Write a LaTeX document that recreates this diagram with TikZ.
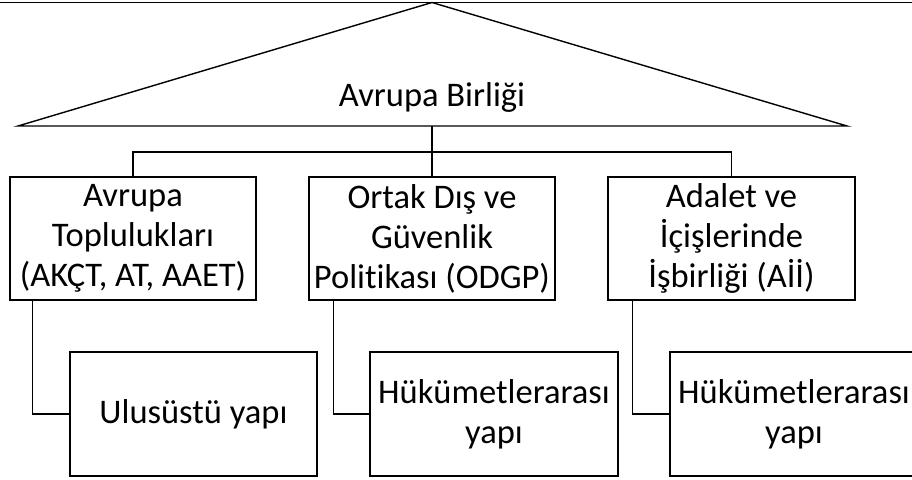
\documentclass[tikz,border=0pt]{standalone}
\usepackage{fontspec}
\setmainfont{Carlito}[Ligatures=NoCommon]
\begin{document}
\begin{tikzpicture}[x=1pt,y=-1pt,
  box/.style={draw,line width=1.4pt,minimum height=123pt,align=center,inner sep=0pt,
    font=\fontsize{34.5}{40}\selectfont},
  conn/.style={line width=1.4pt},
  thin/.style={line width=1.1pt}]
\useasboundingbox (0,0) rectangle (912,479);
\clip (0,0) rectangle (912,479);
% top rule
\draw[line width=1.4pt] (0,2.5) -- (912,2.5);
% triangle
\coordinate (apex) at (432,2.5);
\coordinate (tl) at (18,126);
\coordinate (tr) at (847,126);
\coordinate (tribase) at (432,126);
\draw[line width=1.4pt,line join=miter] (tl) -- (apex) -- (tr) -- cycle;
\node[font=\fontsize{34.5}{40}\selectfont] (eu) at (432,97) {Avrupa Birliği};
% upper boxes
\node[box,minimum width=246pt] (b1) at (133,238.5) {Avrupa\\Toplulukları\\(AKÇT, AT, AAET)};
\node[box,minimum width=246pt] (b2) at (432,238.5) {Ortak Dış ve\\Güvenlik\\Politikası (ODGP)};
\node[box,minimum width=247pt] (b3) at (731.5,238.5) {Adalet ve\\İçişlerinde\\İşbirliği (Aİİ)};
% lower boxes
\node[box,thin,minimum width=247pt,minimum height=124pt] (b4) at (193.5,414) {Ulusüstü yapı};
\node[box,thin,minimum width=248pt,minimum height=124pt] (b5) at (494,414) {Hükümetlerarası\\yapı};
\node[box,thin,minimum width=248pt,minimum height=124pt] (b6) at (794,414) {Hükümetlerarası\\yapı};
% connectors
\coordinate (bar) at (432,152);
\draw[conn] (tribase) -- (b2.north);
\draw[conn] (b1.north) |- (bar) -| (b3.north);
\draw[thin] ([xshift=23pt]b1.south west) |- (b4.west);
\draw[thin] ([xshift=25pt]b2.south west) |- (b5.west);
\draw[thin] ([xshift=25pt]b3.south west) |- (b6.west);
\end{tikzpicture}
\end{document}
